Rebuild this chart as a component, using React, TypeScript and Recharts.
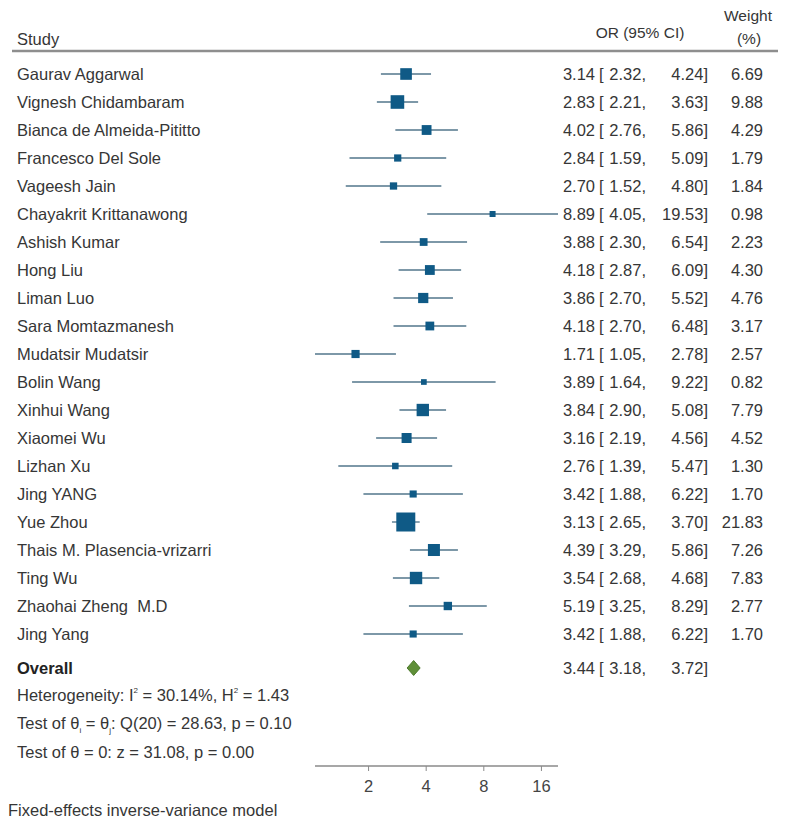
import { ScatterChart, Scatter, XAxis, YAxis, ErrorBar, ReferenceLine } from 'recharts';

const studies = [
  'Gaurav Aggarwal',
  'Vignesh Chidambaram',
  'Bianca de Almeida-Pititto',
  'Francesco Del Sole',
  'Vageesh Jain',
  'Chayakrit Krittanawong',
  'Ashish Kumar',
  'Hong Liu',
  'Liman Luo',
  'Sara Momtazmanesh',
  'Mudatsir Mudatsir',
  'Bolin Wang',
  'Xinhui Wang',
  'Xiaomei Wu',
  'Lizhan Xu',
  'Jing YANG',
  'Yue Zhou',
  'Thais M. Plasencia-vrizarri',
  'Ting Wu',
  'Zhaohai Zheng  M.D',
  'Jing Yang'
];
const oddsRatios = [3.14, 2.83, 4.02, 2.84, 2.70, 8.89, 3.88, 4.18, 3.86, 4.18, 1.71, 3.89, 3.84, 3.16, 2.76, 3.42, 3.13, 4.39, 3.54, 5.19, 3.42];
const lowerCI = [2.32, 2.21, 2.76, 1.59, 1.52, 4.05, 2.30, 2.87, 2.70, 2.70, 1.05, 1.64, 2.90, 2.19, 1.39, 1.88, 2.65, 3.29, 2.68, 3.25, 1.88];
const upperCI = [4.24, 3.63, 5.86, 5.09, 4.80, 19.53, 6.54, 6.09, 5.52, 6.48, 2.78, 9.22, 5.08, 4.56, 5.47, 6.22, 3.70, 5.86, 4.68, 8.29, 6.22];
const weights = [6.69, 9.88, 4.29, 1.79, 1.84, 0.98, 2.23, 4.30, 4.76, 3.17, 2.57, 0.82, 7.79, 4.52, 1.30, 1.70, 21.83, 7.26, 7.83, 2.77, 1.70];
const overallOR = 3.44;
const overallLower = 3.18;
const overallUpper = 3.72;
const xTicks = [2, 4, 8, 16];

const FONT = "'Liberation Sans', Arial, sans-serif";
const TEXT = '#363636';
const BOX = '#0f5a86';
const CI_LINE = '#7d98a8';

const rows = studies.map((name, i) => ({
  name,
  row: i,
  or: oddsRatios[i],
  lo: lowerCI[i],
  hi: upperCI[i],
  weight: weights[i],
  err: [oddsRatios[i] - lowerCI[i], upperCI[i] - oddsRatios[i]]
}));

const overallRow = studies.length + 0.214;
const overallData = [{ name: 'Overall', row: overallRow, or: overallOR, lo: overallLower, hi: overallUpper }];

const CiText = ({ y, d }: { y: number; d: any }) => (
  <g fontFamily={FONT} fontSize={16.5} fill={TEXT}>
    <text x={595} y={y} textAnchor="end">{d.or.toFixed(2)}</text>
    <text x={599} y={y}>[</text>
    <text x={646} y={y} textAnchor="end">{d.lo.toFixed(2)},</text>
    <text x={708} y={y} textAnchor="end">{d.hi.toFixed(2)}]</text>
    {d.weight != null && (
      <text x={763} y={y} textAnchor="end">{d.weight.toFixed(2)}</text>
    )}
  </g>
);

const StudyShape = (props: any) => {
  const { cx, cy, payload } = props;
  const side = 2.5 + 3.53 * Math.sqrt(payload.weight);
  return (
    <g>
      <text x={17} y={cy + 6} fontFamily={FONT} fontSize={16.5} fill={TEXT} style={{ whiteSpace: 'pre' }}>
        {payload.name}
      </text>
      <rect x={cx - side / 2} y={cy - side / 2} width={side} height={side} fill={BOX} />
      <CiText y={cy + 6} d={payload} />
    </g>
  );
};

const OverallShape = (props: any) => {
  const { cy, payload } = props;
  return (
    <g>
      <text x={17} y={cy + 6} fontFamily={FONT} fontSize={16.5} fontWeight="bold" fill="#222">
        Overall
      </text>
      <CiText y={cy + 6} d={payload} />
    </g>
  );
};

const Diamond = (props: any) => {
  const { x1, x2, y1 } = props;
  const apex = x1 + (x2 - x1) * Math.log(overallOR / overallLower) / Math.log(overallUpper / overallLower);
  const h = 7.5;
  return (
    <polygon
      points={`${x1},${y1} ${apex},${y1 - h} ${x2},${y1} ${apex},${y1 + h}`}
      fill="#5f8f38"
      stroke="#4d7a2c"
      strokeWidth={1}
    />
  );
};

export default function ForestPlot() {
  return (
    <div style={{ position: 'absolute', left: 0, top: 0, width: 789, height: 828, background: '#fff' }}>
      <svg width={789} height={828} style={{ position: 'absolute', left: 0, top: 0 }} fontFamily={FONT} fill={TEXT}>
        <text x={17} y={45} fontSize={16.5}>Study</text>
        <text x={640} y={38} fontSize={15.5} textAnchor="middle">OR (95% CI)</text>
        <text x={748} y={21} fontSize={15.5} textAnchor="middle">Weight</text>
        <text x={749} y={44} fontSize={15.5} textAnchor="middle">(%)</text>
        <line x1={12} x2={778} y1={51} y2={51} stroke="#8e8e8e" strokeWidth={2.5} />

        <text x={17} y={701} fontSize={16.5}>
          Heterogeneity: I<tspan fontSize={8} dy={-8}>2</tspan>
          <tspan dy={8}> = 30.14%, H</tspan>
          <tspan fontSize={8} dy={-8}>2</tspan>
          <tspan dy={8}> = 1.43</tspan>
        </text>
        <text x={17} y={729} fontSize={16.5}>
          Test of θ<tspan fontSize={8} dy={4}>i</tspan>
          <tspan dy={-4}> = θ</tspan>
          <tspan fontSize={8} dy={4}>j</tspan>
          <tspan dy={-4}>: Q(20) = 28.63, p = 0.10</tspan>
        </text>
        <text x={17} y={758} fontSize={16.5}>Test of θ = 0: z = 31.08, p = 0.00</text>
        <text x={8} y={816} fontSize={16.5}>Fixed-effects inverse-variance model</text>
      </svg>

      <div style={{ position: 'absolute', left: 0, top: 0 }}>
        <ScatterChart width={789} height={828} margin={{ top: 46, right: 231, bottom: 32, left: 315 }}>
          <XAxis
            type="number"
            dataKey="or"
            scale="log"
            domain={[1.05, 19.53]}
            ticks={xTicks}
            height={30}
            tickSize={5}
            tickMargin={9}
            tick={{ fill: '#444', fontSize: 16.5, fontFamily: FONT }}
            axisLine={{ stroke: '#8a8a8a', strokeWidth: 1.5 }}
            tickLine={{ stroke: '#8a8a8a' }}
          />
          <YAxis type="number" dataKey="row" domain={[-1, 24.714]} reversed hide />
          <Scatter data={rows} shape={StudyShape} isAnimationActive={false}>
            <ErrorBar dataKey="err" direction="x" width={0} stroke={CI_LINE} strokeWidth={1.8} />
          </Scatter>
          <Scatter data={overallData} shape={OverallShape} isAnimationActive={false} />
          <ReferenceLine
            segment={[
              { x: overallLower, y: overallRow },
              { x: overallUpper, y: overallRow }
            ]}
            shape={Diamond}
          />
        </ScatterChart>
      </div>
    </div>
  );
}
